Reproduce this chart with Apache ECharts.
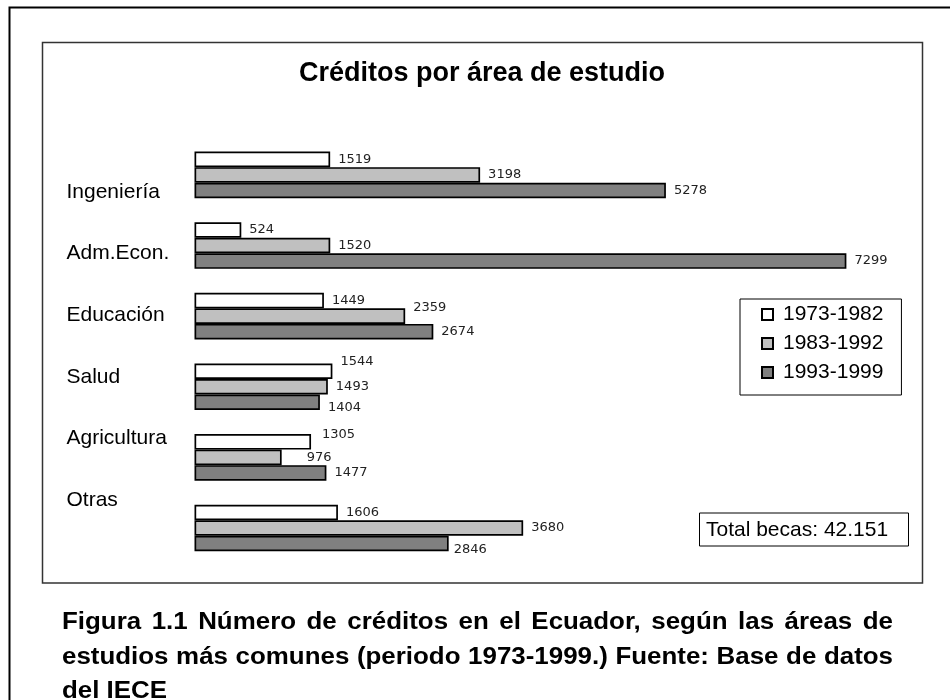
<!DOCTYPE html>
<html>
<head>
<meta charset="utf-8">
<script src="https://cdn.jsdelivr.net/npm/echarts@6/dist/echarts.min.js"></script>
<style>
body { margin: 0; background: #fff; }
#myChart { width: 950px; height: 700px; }
</style>
</head>
<body>
<div id="myChart"></div>
<script>
// areas de estudio, de arriba hacia abajo
var areas = ['Ingeniería', 'Adm.Econ.', 'Educación', 'Salud', 'Agricultura', 'Otras'];
var periodos = ['1973-1982', '1983-1992', '1993-1999'];
var creditos7382 = [1519, 524, 1449, 1544, 1305, 1606];
var creditos8392 = [3198, 1520, 2359, 1493, 976, 3680];
var creditos9399 = [5278, 7299, 2674, 1404, 1477, 2846];
var totalBecas = 'Total becas: 42.151';
var titulo = 'Créditos por área de estudio';
var pie = [
  'Figura 1.1 Número de créditos en el Ecuador, según las áreas de',
  'estudios más comunes (periodo 1973-1999.) Fuente: Base de datos',
  'del IECE'
];

var fuente = 'Liberation Sans, Arial, sans-serif';
var colores = ['#ffffff', '#c0c0c0', '#808080'];

// ajustes de etiquetas como en el original: [serie, area, dx, dy]
var ajustes = [[1, 2, 0, -9], [0, 3, 0, -10], [2, 3, 0, 5], [0, 4, 3, -7], [1, 4, 17, 0], [2, 5, -3, 6]];

function armarDatos(valores, s) {
  return valores.map(function (v, i) {
    var item = { value: v };
    ajustes.forEach(function (a) {
      if (a[0] === s && a[1] === i) item.label = { offset: [a[2], a[3]] };
    });
    return item;
  });
}

var series = [creditos7382, creditos8392, creditos9399].map(function (valores, s) {
  return {
    name: periodos[s],
    type: 'bar',
    xAxisIndex: 0,
    yAxisIndex: 0,
    barGap: '0%',
    barCategoryGap: '34%',
    itemStyle: { color: colores[s], borderColor: '#000', borderWidth: 1.7 },
    label: {
      show: true,
      position: 'right',
      distance: 8,
      color: '#222',
      fontFamily: 'DejaVu Sans',
      fontSize: 13
    },
    emphasis: { disabled: true },
    data: armarDatos(valores, s)
  };
});

var graphic = [
  { type: 'rect', shape: { x: 9.5, y: 7.5, width: 1000, height: 800 }, style: { fill: 'none', stroke: '#000', lineWidth: 2 } },
  { type: 'rect', shape: { x: 42.5, y: 42.5, width: 880, height: 540.5 }, style: { fill: 'none', stroke: '#333', lineWidth: 1.5 } },
  { type: 'rect', shape: { x: 699.5, y: 513, width: 209, height: 33 }, style: { fill: '#fff', stroke: '#000', lineWidth: 1 } },
  { type: 'text', x: 706, y: 530, style: { text: totalBecas, fontFamily: fuente, fontSize: 21, fill: '#000', verticalAlign: 'middle' } }
];

// pie de figura: letra algo ensanchada y justificada
var ctx = document.createElement('canvas').getContext('2d');
ctx.font = 'bold 23px ' + fuente;
var anchoPie = 831;
function medir(palabras) {
  var t = 0;
  palabras.forEach(function (p) { t += ctx.measureText(p).width; });
  return t;
}
var pal1 = pie[0].split(' ');
var escala = (anchoPie - (pal1.length - 1) * 10.5) / medir(pal1);

function textoPie(txt, x, y) {
  return {
    type: 'text', x: x, y: y, scaleX: escala,
    style: { text: txt, fontFamily: fuente, fontSize: 23, fontWeight: 'bold', fill: '#000', verticalAlign: 'middle' }
  };
}

pie.forEach(function (linea, i) {
  var y = 623 + i * 34.5;
  if (i === pie.length - 1) {
    graphic.push(textoPie(linea, 62, y));
    return;
  }
  var palabras = linea.split(' ');
  var hueco = (anchoPie - medir(palabras) * escala) / (palabras.length - 1);
  var x = 62;
  palabras.forEach(function (p) {
    graphic.push(textoPie(p, x, y));
    x += ctx.measureText(p).width * escala + hueco;
  });
});

var myChart = echarts.init(document.getElementById('myChart'));
myChart.setOption({
  backgroundColor: '#fff',
  animation: false,
  title: {
    text: titulo,
    left: 299,
    top: 60,
    padding: 0,
    textStyle: { fontFamily: fuente, fontSize: 27, fontWeight: 'bold', color: '#000' }
  },
  legend: {
    data: periodos,
    orient: 'vertical',
    left: 740,
    top: 299,
    padding: [5, 18, 12, 21],
    backgroundColor: '#fff',
    borderColor: '#000',
    borderWidth: 1,
    icon: 'rect',
    itemWidth: 11,
    itemHeight: 11,
    itemGap: 8,
    selectedMode: false,
    textStyle: { fontFamily: fuente, fontSize: 21, color: '#000', padding: [0, 0, 0, 5] }
  },
  grid: [
    { left: 194.5, right: 41, top: 139.6, height: 423.7 },
    { left: 190, width: 10, top: 160.9, height: 370 }
  ],
  xAxis: [
    { type: 'value', gridIndex: 0, min: 0, max: 8000, show: false },
    { type: 'value', gridIndex: 1, show: false }
  ],
  yAxis: [
    { type: 'category', gridIndex: 0, data: areas, inverse: true, show: false },
    {
      type: 'category', gridIndex: 1, data: areas, inverse: true,
      axisLine: { show: false }, axisTick: { show: false },
      axisLabel: { align: 'left', margin: 123.5, fontFamily: fuente, fontSize: 21, color: '#000' }
    }
  ],
  graphic: graphic,
  series: series
});
</script>
</body>
</html>
